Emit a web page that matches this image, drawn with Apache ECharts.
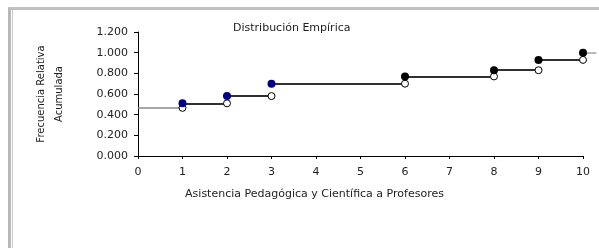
<!DOCTYPE html>
<html>
<head><meta charset="utf-8"></head>
<script type="text/javascript" src="https://cdn.jsdelivr.net/npm/echarts@6/dist/echarts.min.js"></script>
<body style="margin:0;background:#fff;">
    <div id="main" style="position:absolute;left:0;top:0;width:599px;height:248px;"></div>
    <!-- marco gris como en la hoja original -->
    <div style="position:absolute;left:8px;top:7px;width:591px;height:241px;border-top:3px solid #c0c0c0;border-left:3px solid #b8b8b8;pointer-events:none;"></div>
    <div style="position:absolute;left:12px;top:10px;width:1px;height:238px;background:#c8c8c8;pointer-events:none;"></div>
</body>
<script type="text/javascript">
// valores
var xVals = [0, 1, 2, 3, 6, 8, 9, 10]
var fAcum = [0.466, 0.51, 0.58, 0.70, 0.77, 0.83, 0.93, 1.00]
var colorPunto = ['#000080', '#000080', '#000080', '#000080', '#000000', '#000000', '#000000', '#000000']
var yTicks = [0, 0.2, 0.4, 0.6, 0.8, 1.0, 1.2]

var fuente = 'DejaVu Sans'

// tramos horizontales de la escalera
var tramos = []
for (var i = 0; i < xVals.length - 1; i++) {
    tramos.push({
        coords: [[xVals[i], fAcum[i]], [xVals[i + 1], fAcum[i]]],
        lineStyle: {color: i == 0 ? '#8a8a8a' : '#303030', width: i == 0 ? 1.5 : 2, opacity: 1}
    })
}
// continuacion despues del ultimo valor
var ult = xVals.length - 1
tramos.push({
    coords: [[xVals[ult], fAcum[ult]], [xVals[ult] + 0.3, fAcum[ult]]],
    lineStyle: {color: '#a0a0a0', width: 1.5, opacity: 1}
})

// puntos llenos (F(x)) y abiertos (F(x-))
var llenos = []
var abiertos = []
for (var i = 1; i < xVals.length; i++) {
    llenos.push({value: [xVals[i], fAcum[i]], itemStyle: {color: colorPunto[i], opacity: 1}})
    abiertos.push([xVals[i], fAcum[i - 1]])
}

var myChart = echarts.init(document.getElementById('main'))
myChart.setOption({
    animation: false,
    title: {
        text: 'Distribución Empírica',
        left: 228,
        top: 18,
        textStyle: {fontFamily: fuente, fontSize: 11, fontWeight: 'normal', color: '#222'}
    },
    grid: {left: 138, right: 16, top: 32, bottom: 92, containLabel: false},
    xAxis: {
        type: 'value',
        min: 0,
        max: 10,
        interval: 1,
        name: 'Asistencia Pedagógica y Científica a Profesores',
        nameLocation: 'middle',
        nameGap: 33,
        nameTextStyle: {fontFamily: fuente, fontSize: 11, color: '#222', padding: [0, 92, 0, 0]},
        axisLine: {lineStyle: {color: '#000', width: 1}},
        axisTick: {length: 3, lineStyle: {color: '#000'}},
        axisLabel: {fontFamily: fuente, fontSize: 11, color: '#222', margin: 11},
        splitLine: {show: false}
    },
    yAxis: {
        type: 'value',
        min: yTicks[0],
        max: yTicks[yTicks.length - 1],
        interval: 0.2,
        name: 'Frecuencia Relativa\nAcumulada',
        nameLocation: 'middle',
        nameRotate: 90,
        nameGap: 70,
        nameTextStyle: {fontFamily: fuente, fontSize: 10, color: '#222', lineHeight: 18},
        axisLine: {show: true, lineStyle: {color: '#000', width: 1}},
        axisTick: {show: true, length: 4, lineStyle: {color: '#000'}},
        axisLabel: {
            fontFamily: fuente, fontSize: 11, color: '#222', margin: 10,
            formatter: function (v) { return v.toFixed(3) }
        },
        splitLine: {show: false}
    },
    series: [
        {
            type: 'lines',
            coordinateSystem: 'cartesian2d',
            polyline: false,
            clip: false,
            silent: true,
            data: tramos
        },
        {
            type: 'scatter',
            symbol: 'circle',
            symbolSize: 7,
            itemStyle: {color: '#fff', borderColor: '#000', borderWidth: 1, opacity: 1},
            z: 3,
            data: abiertos
        },
        {
            type: 'scatter',
            symbol: 'circle',
            symbolSize: 8,
            z: 4,
            data: llenos
        }
    ]
})
</script>
</html>
